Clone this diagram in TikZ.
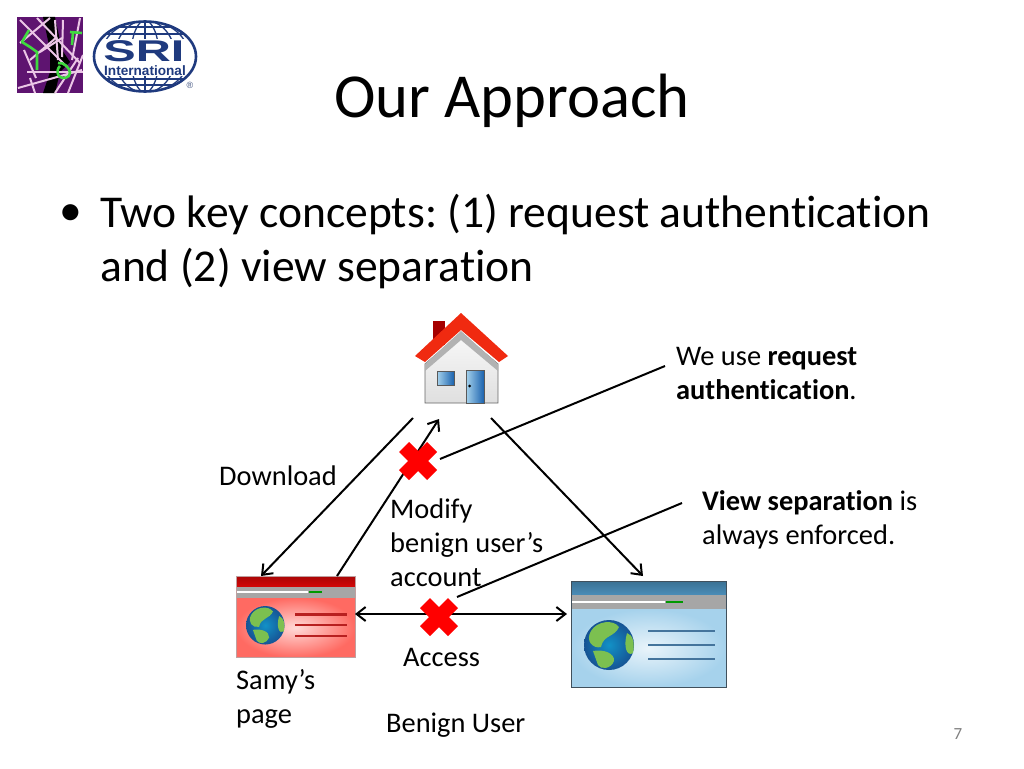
\documentclass[tikz,border=0pt]{standalone}
\usepackage{fontspec}
\setmainfont{Carlito}[RawFeature={-liga}]
\newfontfamily\logofont{Liberation Sans}
\usetikzlibrary{arrows.meta,calc}
\definecolor{srinavy}{HTML}{1F3A7E}
\definecolor{mapviolet}{HTML}{5E1470}
\definecolor{maplines}{HTML}{EBC6E6}
\definecolor{mapgreen}{HTML}{3FD93F}
\definecolor{roofred}{HTML}{F02A10}
\definecolor{samyhead}{HTML}{D40808}
\definecolor{samybody}{HTML}{FF6A62}
\definecolor{samyline}{HTML}{B82020}
\definecolor{samyedge}{HTML}{C0A0A0}
\definecolor{benignhead}{HTML}{4A8DB8}
\definecolor{benignbody}{HTML}{A6D2EC}
\definecolor{benignline}{HTML}{44749C}
\definecolor{benignedge}{HTML}{40505C}
\definecolor{globeblue}{HTML}{1A62AE}
\definecolor{globeland}{HTML}{7CC050}
\tikzset{
  conn/.style={line width=2pt,black},
  arr/.style={conn,-{Straight Barb[length=9pt,width=14pt,line width=2pt]}},
  arrboth/.style={conn,{Straight Barb[length=9pt,width=14pt,line width=2pt]}-{Straight Barb[length=9pt,width=14pt,line width=2pt]}},
  txtlabel/.style={inner sep=0pt,anchor=base west,align=left,font=\fontsize{28.4}{34}\selectfont},
  bulletline/.style={inner sep=0pt,anchor=base west,font=\fontsize{45.55}{54}\selectfont},
  maproad/.style={maplines,line width=2pt},
  mappath/.style={mapgreen,line width=2.6pt,line join=round},
}
% a browser window, drawn at the size of the blue one
\newcommand{\webpage}[7]{
  \begin{scope}[shift={(#1,#2)},scale=#3]
    \shade[inner color=#5!25!white,outer color=#5] (0,28) rectangle (155,106);
    \shade[top color=#4!80!black,bottom color=#4] (0,0) rectangle (155,14);
    \fill[gray!70] (0,14) rectangle (155,28);
    \draw[white,line width=1.8pt] (1,21) -- (94,21);
    \draw[green!60!black,line width=1.8pt] (95,21) -- (112,21);
    \shade[inner color=globeblue!70!cyan,outer color=globeblue!85!black] (38,64) circle (25);
    \fill[globeland] (20,50) .. controls (26,40) and (42,38) .. (48,46) .. controls (44,56) and (32,54) .. (30,66) .. controls (22,68) and (14,60) .. (20,50);
    \fill[globeland] (22,70) .. controls (32,68) and (44,72) .. (43,80) .. controls (40,88) and (30,89) .. (27,84) -- cycle;
    \fill[globeland] (56,52) .. controls (62,54) and (64,62) .. (62,72) .. controls (56,76) and (52,66) .. (56,52);
    \foreach \ly in {50,64,78}{
      \draw[#6,line width=2.4pt] (77,\ly) -- (144,\ly);
    }
    \draw[#7,line width=.8pt] (0,0) rectangle (155,106);
  \end{scope}
}
% red cross
\newcommand{\redcross}[2]{
  \fill[red,shift={(#1,#2)}] (-19,-9) -- (-9,-19) -- (0,-10) -- (9,-19) -- (19,-9) -- (10,0) -- (19,9) -- (9,19) -- (0,10) -- (-9,19) -- (-19,9) -- (-10,0) -- cycle;
}
\frenchspacing
\begin{document}
\begin{tikzpicture}[x=1pt,y=-1pt]
  \useasboundingbox (0,0) rectangle (1024,768);
  \fill[white] (0,0) rectangle (1024,768);

  % map logo
  \begin{scope}
    \clip (17,17) rectangle (83,93);
    \fill[mapviolet] (17,17) rectangle (83,93);
    \fill[black] (43,17) -- (55,17) -- (62,50) -- (70,62) -- (60,72) -- (55,93) -- (43,93) -- (50,72) -- (50,50) -- cycle;
    \foreach \ax/\ay/\bx/\by in {20/20/67/67, 37/18/80/63, 20/43/50/18, 30/60/57/37, 55/20/58/60, 63/20/62/57, 80/18/72/60, 18/88/82/70, 27/72/83/72, 24/50/36/78, 35/93/30/78, 68/93/83/55, 55/93/78/58, 40/52/62/38}{
      \draw[maproad] (\ax,\ay) -- (\bx,\by);
    }
    \draw[mappath] (29,30) -- (22,42) -- (30,47) -- (37,52) -- (37,70);
    \draw[mappath] (70,32) -- (82,33) (73,32) -- (72,45);
    \draw[mappath] (58,63) .. controls (64,62) and (70,68) .. (70,73) .. controls (70,78) and (62,80) .. (59,76) .. controls (56,72) and (58,68) .. (60,66);
  \end{scope}

  % sri logo
  \begin{scope}
    \clip (145,56.5) ellipse [x radius=52,y radius=35.5];
    \foreach \rw in {14,30,44}{
      \draw[srinavy,line width=1.3pt] (145,56.5) ellipse [x radius=\rw,y radius=36];
    }
    \draw[srinavy,line width=1.3pt] (145,20) -- (145,92);
    \foreach \ly in {27,34,79,85}{
      \draw[srinavy,line width=1.3pt] (90,\ly) -- (200,\ly);
    }
    \fill[white] (90,39) rectangle (200,76);
  \end{scope}
  \draw[srinavy,line width=2.6pt] (145,56.5) ellipse [x radius=51,y radius=35];
  \node[inner sep=0pt,text=srinavy,xscale=1.62] (srimark) at (144,51) {\logofont\bfseries\fontsize{30}{30}\selectfont SRI};
  \node[inner sep=0pt,text=srinavy] (sriname) at (145,70.5) {\logofont\bfseries\fontsize{13.6}{15}\selectfont International};
  \node[inner sep=0pt,text=srinavy!70!gray] (srireg) at (190,85.5) {\logofont\fontsize{9}{9}\selectfont ®};

  % title and bullet
  \node[inner sep=0pt,anchor=base] (title) at (512,117) {\fontsize{62.6}{66}\selectfont Our Approach};
  \node[bulletline] (bulletmark) at (59,225) {•};
  \node[bulletline] (lineone) at (100,227) {Two key concepts: (1) request authentication};
  \node[bulletline] (linetwo) at (100,281) {and (2) view separation};

  % house
  \fill[red!65!black] (433,321) rectangle (445,345);
  \shade[top color=gray!5,bottom color=gray!25,draw=gray!80!black,line width=.8pt] (425,364) -- (461,333) -- (498,364) -- (498,403) -- (425,403) -- cycle;
  \fill[gray!60] (425,364) -- (461,331) -- (498,364) -- (498,371) -- (461,340) -- (425,371) -- cycle;
  \fill[roofred] (415,356) -- (461,313) -- (508,356) -- (499,362) -- (461,330) -- (425,362) -- cycle;
  \shade[left color=benignbody,right color=globeblue,draw=gray!70!black] (437,371) rectangle (454,385);
  \shade[left color=benignbody,right color=globeblue,draw=gray!70!black] (466,370) rectangle (484,403);
  \fill[black] (469.5,386) circle (1.5);

  % pages
  \webpage{236}{576}{0.77}{samyhead}{samybody}{samyline}{samyedge}
  \webpage{571}{581}{1}{benignhead}{benignbody}{benignline}{benignedge}

  % connectors
  \coordinate (houseL) at (413,418);
  \coordinate (houseM) at (439,419);
  \coordinate (houseR) at (491,418);
  \coordinate (samyT) at (261,576);
  \coordinate (samyM) at (337,576);
  \coordinate (samyS) at (355,614);
  \coordinate (benignT) at (643,576);
  \coordinate (benignS) at (567,614);
  \coordinate (noteA) at (665,366);
  \coordinate (crossA) at (440,459);
  \coordinate (noteB) at (682,503);
  \coordinate (crossB) at (457,597);
  \draw[arr] (houseL) -- (samyT);
  \draw[arr] (samyM) -- (houseM);
  \draw[arr] (houseR) -- (benignT);
  \draw[arrboth] (samyS) -- (benignS);
  \draw[conn] (crossA) -- (noteA);
  \draw[conn] (crossB) -- (noteB);
  \redcross{418}{461}
  \redcross{439}{617}

  % labels
  \node[txtlabel] (download) at (219,485) {Download};
  \node[txtlabel] (modify) at (390,586) {Modify\\benign user’s\\account};
  \node[txtlabel] (access) at (403,666) {Access};
  \node[txtlabel] (samy) at (236,723) {Samy’s\\page};
  \node[txtlabel] (benign) at (386,732) {Benign User};
  \node[txtlabel] (noteone) at (676,399) {We use \textbf{request}\\\textbf{authentication}.};
  \node[txtlabel] (notetwo) at (702,544) {\textbf{View separation} is\\always enforced.};
  \node[inner sep=0pt,anchor=base,text=gray,font=\fontsize{17}{17}\selectfont] (pagenum) at (958,739) {7};
\end{tikzpicture}
\end{document}
